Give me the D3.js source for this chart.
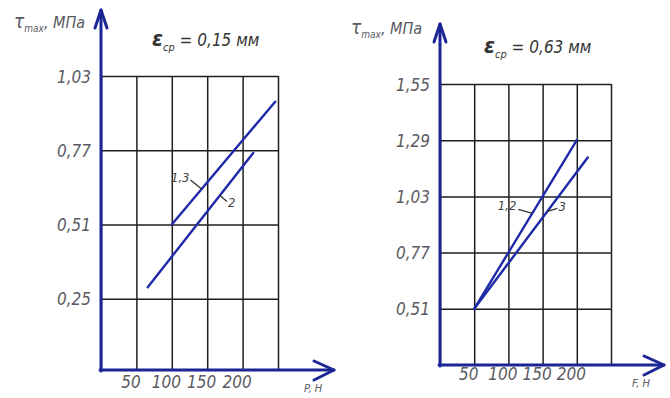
<!DOCTYPE html>
<html>
<head>
<meta charset="utf-8">
<script src="https://cdn.jsdelivr.net/npm/d3@7"></script>
<style>
  html, body { margin: 0; padding: 0; background: #ffffff; }
  svg { display: block; }
  .lbl { font-family: "Liberation Sans Narrow", "DejaVu Sans Condensed", "Liberation Sans", sans-serif; font-style: italic; }
</style>
</head>
<body>
<svg id="chart" width="670" height="398"></svg>
<script>
// Load values, N (ticks shared by both panels)
const loadTicks = [0, 50, 100, 150, 200, 250];
const loadLabels = [50, 100, 150, 200];

// Left panel: εср = 0,15 мм
const leftTauTicks = [0.25, 0.51, 0.77, 1.03];
const leftLine13Load = [100, 246];
const leftLine13Tau = [0.51, 0.94];
const leftLine2Load = [66, 215];
const leftLine2Tau = [0.29, 0.76];

// Right panel: εср = 0,63 мм
const rightTauTicks = [0.51, 0.77, 1.03, 1.29, 1.55];
const rightLine12Load = [50, 200];
const rightLine12Tau = [0.51, 1.29];
const rightLine3Load = [50, 216];
const rightLine3Tau = [0.51, 1.21];

const axisColor = "#1b2694";
const gridColor = "#1e1e1e";
const lineColor = "#1f2aa8";
const textColor = "#5a5a62";

const svg = d3.select("#chart");
const fmt = d => d.toFixed(2).replace(".", ",");

function panel(cfg) {
  const x = d3.scaleLinear().domain([0, 250]).range([cfg.left, cfg.right]);
  const y = d3.scaleLinear().domain(cfg.yDomain).range([cfg.bottom, cfg.top]);
  const g = svg.append("g");

  // horizontal grid + tau labels
  const ya = g.append("g")
    .attr("transform", `translate(${cfg.left},0)`)
    .call(d3.axisLeft(y).tickValues(cfg.tauTicks).tickSize(-(cfg.right - cfg.left))
      .tickPadding(10).tickFormat(fmt));
  ya.select(".domain").remove();
  ya.selectAll("line").attr("stroke", gridColor).attr("stroke-width", 1.5);
  ya.selectAll("text").attr("class", "lbl").attr("fill", textColor)
    .attr("font-size", 17).attr("dy", "0.36em");

  // vertical grid + load labels
  const xa = g.append("g")
    .attr("transform", `translate(0,${cfg.bottom})`)
    .call(d3.axisBottom(x).tickValues(loadTicks).tickSize(-(cfg.bottom - cfg.top))
      .tickPadding(cfg.xPad).tickFormat(d => loadLabels.includes(d) ? d : ""));
  xa.select(".domain").remove();
  xa.selectAll("line").attr("stroke", gridColor).attr("stroke-width", 1.5);
  xa.selectAll("text").attr("class", "lbl").attr("fill", textColor)
    .attr("font-size", 17).attr("dx", -6);

  // data lines
  const line = d3.line().x(d => x(d[0])).y(d => y(d[1]));
  cfg.series.forEach(s => {
    g.append("path")
      .datum(d3.zip(s.load, s.tau))
      .attr("d", line)
      .attr("fill", "none")
      .attr("stroke", lineColor)
      .attr("stroke-width", 2.4)
      .attr("stroke-linecap", "round");
    // leader and label
    const k = (s.tau[1] - s.tau[0]) / (s.load[1] - s.load[0]);
    const tx = x(s.leaderAt), ty = y(s.tau[0] + k * (s.leaderAt - s.load[0]));
    g.append("line")
      .attr("x1", tx).attr("y1", ty)
      .attr("x2", tx + s.dx).attr("y2", ty + s.dy)
      .attr("stroke", "#333").attr("stroke-width", 1.3);
    g.append("text").attr("class", "lbl")
      .attr("x", tx + s.dx + s.tdx).attr("y", ty + s.dy + s.tdy)
      .attr("text-anchor", s.anchor)
      .attr("fill", "#444").attr("font-size", 13)
      .text(s.name);
  });

  // axes with open arrowheads
  const ax = g.append("g").attr("fill", "none").attr("stroke", axisColor)
    .attr("stroke-width", 3).attr("stroke-linecap", "round").attr("stroke-linejoin", "round");
  ax.append("line").attr("x1", cfg.left).attr("y1", cfg.bottom + 1)
    .attr("x2", cfg.left).attr("y2", cfg.yTip);
  ax.append("path").attr("d",
    `M${cfg.left - 6},${cfg.yTip + 18}L${cfg.left},${cfg.yTip}L${cfg.left + 6},${cfg.yTip + 18}`);
  ax.append("line").attr("x1", cfg.left - 1).attr("y1", cfg.bottom)
    .attr("x2", cfg.xTip).attr("y2", cfg.bottom);
  ax.append("path").attr("d",
    `M${cfg.xTip - 20},${cfg.bottom - 9}L${cfg.xTip},${cfg.bottom}L${cfg.xTip - 20},${cfg.bottom + 10}`);

  // axis captions
  const yl = g.append("text").attr("class", "lbl").attr("fill", textColor)
    .attr("x", cfg.yLabelX).attr("y", cfg.yLabelY).attr("font-size", 16);
  yl.append("tspan").attr("font-size", 19).text("τ");
  yl.append("tspan").attr("font-size", 10).attr("dy", 4).text("max");
  yl.append("tspan").attr("dy", -4).text(", МПа");

  g.append("text").attr("class", "lbl").attr("fill", textColor)
    .attr("x", cfg.xLabelX).attr("y", cfg.xLabelY).attr("font-size", 11)
    .text(cfg.xLabel);

  // panel title
  const t = g.append("text").attr("class", "lbl").attr("fill", "#333")
    .attr("x", cfg.titleX).attr("y", cfg.titleY).attr("font-size", 17);
  t.append("tspan").attr("font-size", 22).attr("font-weight", "bold").text("ε");
  t.append("tspan").attr("font-size", 11).attr("dy", 5).text("ср");
  t.append("tspan").attr("dy", -5).text(" = " + cfg.title);
}

panel({
  left: 101, right: 278, top: 76, bottom: 370,
  yDomain: [0, 1.03], tauTicks: leftTauTicks, xPad: 6,
  yTip: 10, xTip: 334,
  yLabelX: 14, yLabelY: 28, xLabelX: 304, xLabelY: 392, xLabel: "P, Н",
  titleX: 152, titleY: 46, title: "0,15 мм",
  series: [
    { load: leftLine13Load, tau: leftLine13Tau, name: "1,3", leaderAt: 142,
      dx: -11, dy: -9, tdx: -1, tdy: 2, anchor: "end" },
    { load: leftLine2Load, tau: leftLine2Tau, name: "2", leaderAt: 168,
      dx: 7, dy: 6, tdx: 1, tdy: 6, anchor: "start" }
  ]
});

panel({
  left: 440, right: 611, top: 84, bottom: 365,
  yDomain: [0.25, 1.55], tauTicks: rightTauTicks, xPad: 3,
  yTip: 24, xTip: 664,
  yLabelX: 351, yLabelY: 34, xLabelX: 632, xLabelY: 387, xLabel: "F, Н",
  titleX: 484, titleY: 53, title: "0,63 мм",
  series: [
    { load: rightLine12Load, tau: rightLine12Tau, name: "1,2", leaderAt: 135,
      dx: -14, dy: -4, tdx: -2, tdy: 1, anchor: "end" },
    { load: rightLine3Load, tau: rightLine3Tau, name: "3", leaderAt: 157,
      dx: 10, dy: -3, tdx: 1, tdy: 3, anchor: "start" }
  ]
});
</script>
</body>
</html>
